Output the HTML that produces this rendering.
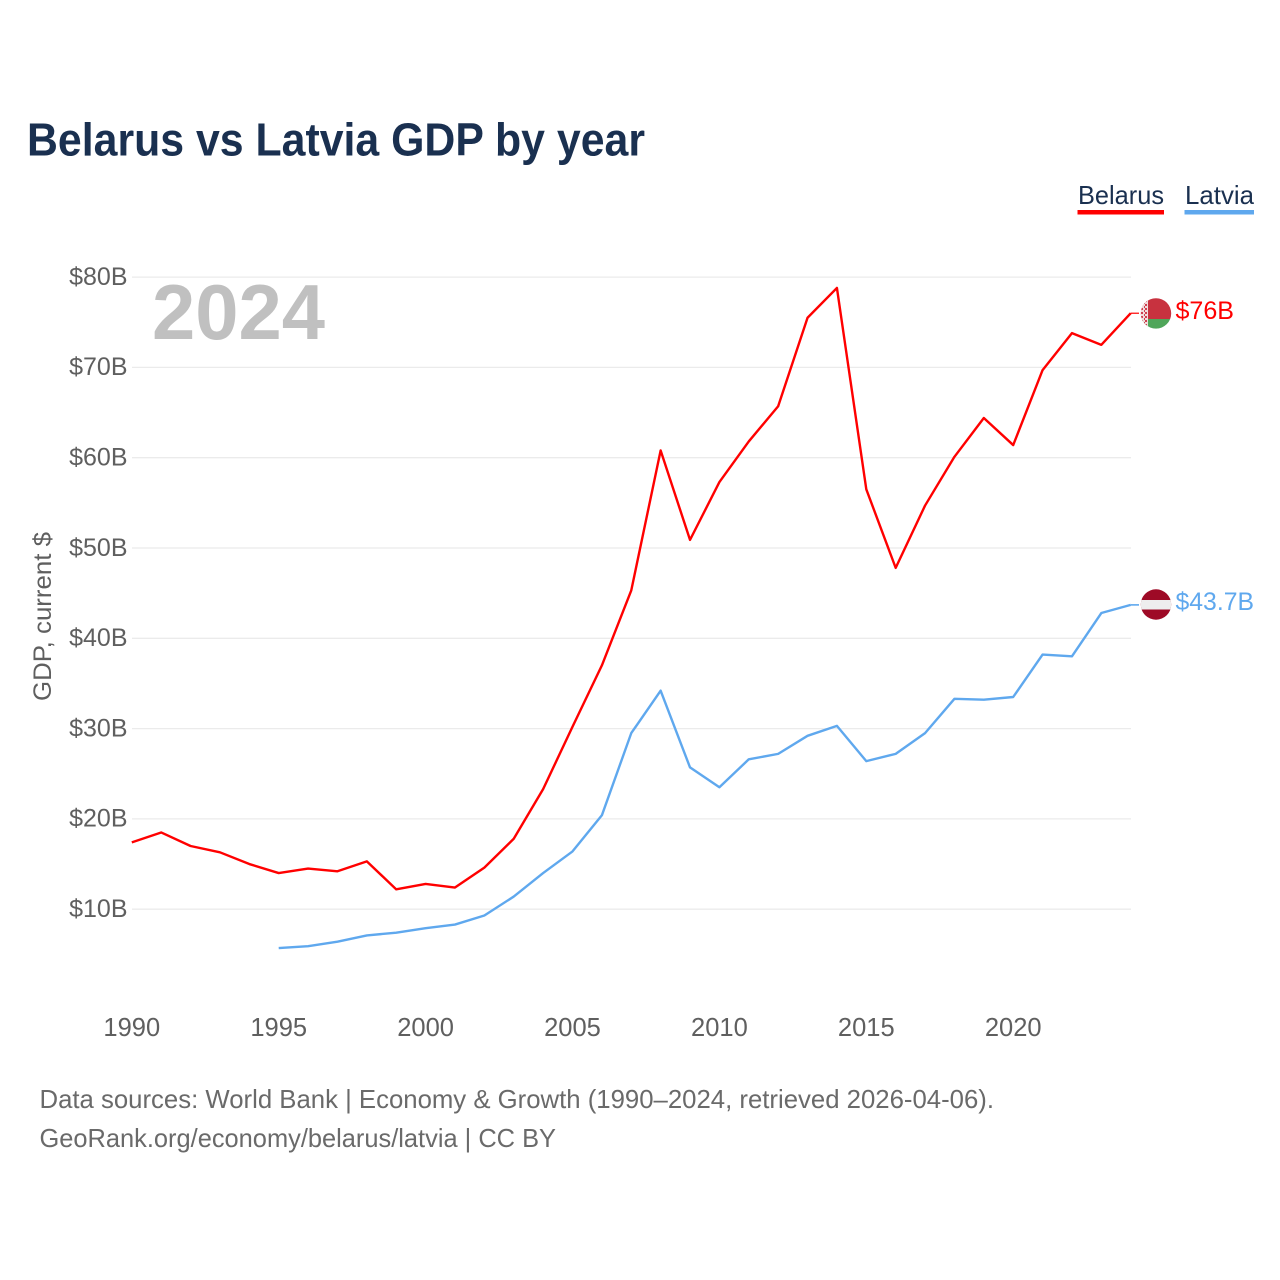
<!DOCTYPE html>
<html lang="en">
<head>
<meta charset="utf-8">
<title>Belarus vs Latvia GDP by year</title>
<style>
html,body{margin:0;padding:0;background:#fff;width:1280px;height:1280px;overflow:hidden}
svg{display:block}
text{font-family:"Liberation Sans",sans-serif}
</style>
</head>
<body>
<svg id="chart" width="1280" height="1280" viewBox="0 0 1280 1280" xmlns="http://www.w3.org/2000/svg">
  <defs>
    <clipPath id="by-clip"><circle cx="1156" cy="313.4" r="15.2"/></clipPath>
    <clipPath id="lv-clip"><circle cx="1156" cy="604.5" r="15.2"/></clipPath>
    <pattern id="by-orn" width="4" height="4" patternUnits="userSpaceOnUse">
      <rect width="4" height="4" fill="#f0dcdc"/>
      <rect x="1" y="0" width="2" height="2" fill="#cf4050"/>
      <rect x="0" y="2" width="1" height="2" fill="#cf4050"/>
    </pattern>
  </defs>
  <rect width="1280" height="1280" fill="#fff"/>
  <text x="27" y="155.5" font-size="46" font-weight="700" fill="#1a3050" textLength="618" lengthAdjust="spacingAndGlyphs">Belarus vs Latvia GDP by year</text>

  <g id="grid"></g>
  <g id="y-ticks"></g>
  <g id="x-ticks"></g>

  <text transform="translate(51,701) rotate(-90)" font-size="25" fill="#5f5f5f" textLength="169" lengthAdjust="spacingAndGlyphs">GDP, current $</text>
  <text x="152" y="339" font-size="78" font-weight="700" fill="#c0c0c0" textLength="173" lengthAdjust="spacingAndGlyphs">2024</text>

  <g id="series"></g>

  <g clip-path="url(#by-clip)">
    <rect x="1140" y="298" width="32" height="21" fill="#c8323f"/>
    <rect x="1140" y="319" width="32" height="11" fill="#4fa65a"/>
    <rect x="1140" y="298" width="8" height="32" fill="url(#by-orn)"/>
  </g>
  <text x="1175.5" y="319" font-size="25" fill="#ff0000" textLength="58.5" lengthAdjust="spacingAndGlyphs">$76B</text>

  <g clip-path="url(#lv-clip)">
    <rect x="1140" y="589" width="32" height="32" fill="#9e0a26"/>
    <rect x="1140" y="600" width="32" height="9.5" fill="#eeeeee"/>
  </g>
  <text x="1175.5" y="610" font-size="25" fill="#5fa8ee" textLength="78.5" lengthAdjust="spacingAndGlyphs">$43.7B</text>

  <g>
    <text x="1078" y="204" font-size="26" fill="#1a3050" textLength="86" lengthAdjust="spacingAndGlyphs">Belarus</text>
    <rect x="1077.5" y="210" width="86.5" height="4.5" fill="#ff0000"/>
    <text x="1185" y="204" font-size="26" fill="#1a3050" textLength="69" lengthAdjust="spacingAndGlyphs">Latvia</text>
    <rect x="1184.5" y="210" width="69.5" height="4.5" fill="#5fa8ee"/>
  </g>

  <text x="39.5" y="1108" font-size="26" fill="#6a6a6a" textLength="954.5" lengthAdjust="spacingAndGlyphs">Data sources: World Bank | Economy &amp; Growth (1990–2024, retrieved 2026-04-06).</text>
  <text x="39.5" y="1147" font-size="26" fill="#6a6a6a" textLength="516.5" lengthAdjust="spacingAndGlyphs">GeoRank.org/economy/belarus/latvia | CC BY</text>
</svg>
<script>
const years = [1990,1991,1992,1993,1994,1995,1996,1997,1998,1999,2000,2001,2002,2003,2004,2005,2006,2007,2008,2009,2010,2011,2012,2013,2014,2015,2016,2017,2018,2019,2020,2021,2022,2023,2024];
const belarusValues = [17.4,18.5,17.0,16.3,15.0,14.0,14.5,14.2,15.3,12.2,12.8,12.4,14.6,17.8,23.3,30.2,37.0,45.3,60.8,50.9,57.3,61.8,65.7,75.5,78.8,56.5,47.8,54.7,60.1,64.4,61.4,69.7,73.8,72.5,76.0];
const latviaValues = [null,null,null,null,null,5.7,5.9,6.4,7.1,7.4,7.9,8.3,9.3,11.4,14.0,16.4,20.4,29.5,34.2,25.7,23.5,26.6,27.2,29.2,30.3,26.4,27.2,29.5,33.3,33.2,33.5,38.2,38.0,42.8,43.7];
const yTickValues = [10,20,30,40,50,60,70,80];
const xTickValues = [1990,1995,2000,2005,2010,2015,2020];

const NS = 'http://www.w3.org/2000/svg';
const xScale = function (year) { return 131.8 + (year - 1990) * 29.38; };
const yScale = function (value) { return 909.2 - (value - 10) * 9.03; };

const gridGroup = document.getElementById('grid');
const yTickGroup = document.getElementById('y-ticks');
yTickValues.forEach(function (v) {
  const line = document.createElementNS(NS, 'line');
  
  
  line.setAttribute('x1', 132);
  line.setAttribute('x2', 1131);
  line.setAttribute('y1', yScale(v));
  line.setAttribute('y2', yScale(v));
  line.setAttribute('stroke', '#ebebeb');
  line.setAttribute('stroke-width', '1.3');
  gridGroup.appendChild(line);

  const label = document.createElementNS(NS, 'text');
  
  
  label.setAttribute('x', 127.5);
  label.setAttribute('y', yScale(v) + 7.8);
  label.setAttribute('text-anchor', 'end');
  label.setAttribute('font-size', '25');
  label.setAttribute('fill', '#5f5f5f');
  label.textContent = '$' + v + 'B';
  yTickGroup.appendChild(label);
});

const xTickGroup = document.getElementById('x-ticks');
xTickValues.forEach(function (yr) {
  const label = document.createElementNS(NS, 'text');
  
  
  label.setAttribute('x', xScale(yr));
  label.setAttribute('y', 1036);
  label.setAttribute('text-anchor', 'middle');
  label.setAttribute('font-size', '25.5');
  label.setAttribute('fill', '#5f5f5f');
  label.textContent = String(yr);
  xTickGroup.appendChild(label);
});

const buildPath = function (values) {
  let d = '';
  values.forEach(function (v, i) {
    if (v === null) return;
    d += (d ? 'L' : 'M') + xScale(years[i]).toFixed(2) + ' ' + yScale(v).toFixed(2);
  });
  return d;
};

const seriesGroup = document.getElementById('series');

const belarusLine = document.createElementNS(NS, 'path');


belarusLine.setAttribute('d', buildPath(belarusValues));
belarusLine.setAttribute('fill', 'none');
belarusLine.setAttribute('stroke', '#ff0000');
belarusLine.setAttribute('stroke-width', '2.4');
belarusLine.setAttribute('stroke-linejoin', 'round');
seriesGroup.appendChild(belarusLine);

const latviaLine = document.createElementNS(NS, 'path');


latviaLine.setAttribute('d', buildPath(latviaValues));
latviaLine.setAttribute('fill', 'none');
latviaLine.setAttribute('stroke', '#5fa8ee');
latviaLine.setAttribute('stroke-width', '2.4');
latviaLine.setAttribute('stroke-linejoin', 'round');
seriesGroup.appendChild(latviaLine);

const belarusLast = belarusValues[belarusValues.length - 1];
const belarusConnector = document.createElementNS(NS, 'line');


belarusConnector.setAttribute('x1', xScale(2024));
belarusConnector.setAttribute('x2', 1139);
belarusConnector.setAttribute('y1', yScale(belarusLast));
belarusConnector.setAttribute('y2', yScale(belarusLast));
belarusConnector.setAttribute('stroke', '#ff0000');
belarusConnector.setAttribute('stroke-width', '1.2');
seriesGroup.appendChild(belarusConnector);

const latviaLast = latviaValues[latviaValues.length - 1];
const latviaConnector = document.createElementNS(NS, 'line');


latviaConnector.setAttribute('x1', xScale(2024));
latviaConnector.setAttribute('x2', 1139);
latviaConnector.setAttribute('y1', yScale(latviaLast));
latviaConnector.setAttribute('y2', yScale(latviaLast));
latviaConnector.setAttribute('stroke', '#5fa8ee');
latviaConnector.setAttribute('stroke-width', '1.6');
seriesGroup.appendChild(latviaConnector);
</script>
</body>
</html>
